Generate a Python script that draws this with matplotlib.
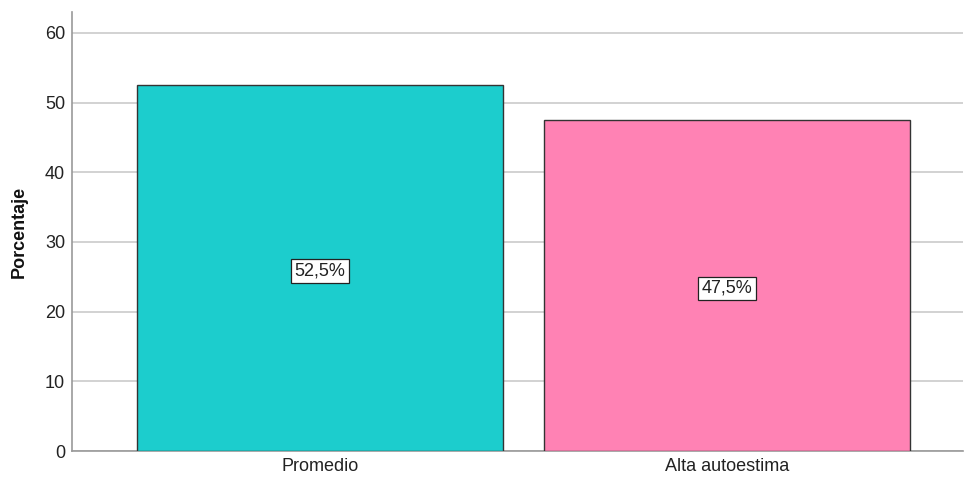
import matplotlib
matplotlib.use("Agg")
import matplotlib.pyplot as plt

categories = ["Promedio", "Alta autoestima"]
values = [52.5, 47.5]
labels = ["52,5%", "47,5%"]
colors = ["#1ccdcd", "#ff82b4"]
yticks = [0, 10, 20, 30, 40, 50, 60]

plt.rcParams['font.family'] = ['Liberation Sans', 'DejaVu Sans']
fig = plt.figure(figsize=(9.64, 4.8), dpi=100)
ax = fig.add_axes([72/964, 29/480, 891/964, 439/480])

x = list(range(len(categories)))
ax.bar(x, values, width=0.9, color=colors, edgecolor="#333333", linewidth=1.0, zorder=3)
for xi, v, lab in zip(x, values, labels):
    ax.text(xi, v/2 - 0.4, lab, ha="center", va="center", fontsize=13, color="#222222", zorder=4,
            bbox=dict(boxstyle="square,pad=0.18", facecolor="white", edgecolor="#222222", linewidth=0.9))

ax.set_xlim(-0.61, 1.58)
ax.set_ylim(0, 63)
ax.set_yticks(yticks)
ax.set_xticks(x)
ax.set_xticklabels(categories, fontsize=13, color="#222222")
ax.tick_params(axis="y", labelsize=13, labelcolor="#222222", length=0, pad=5)
ax.tick_params(axis="x", length=0, pad=5)
ax.grid(axis="y", color="#d2d2d2", linewidth=1.4, zorder=0)
for s in ["top", "right"]:
    ax.spines[s].set_visible(False)
for s in ["left", "bottom"]:
    ax.spines[s].set_color("#999999")
    ax.spines[s].set_linewidth(1.2)
ax.set_ylabel("Porcentaje", fontsize=13, fontweight="bold", color="#111111", labelpad=12)

fig.savefig("out.png", dpi=100)
